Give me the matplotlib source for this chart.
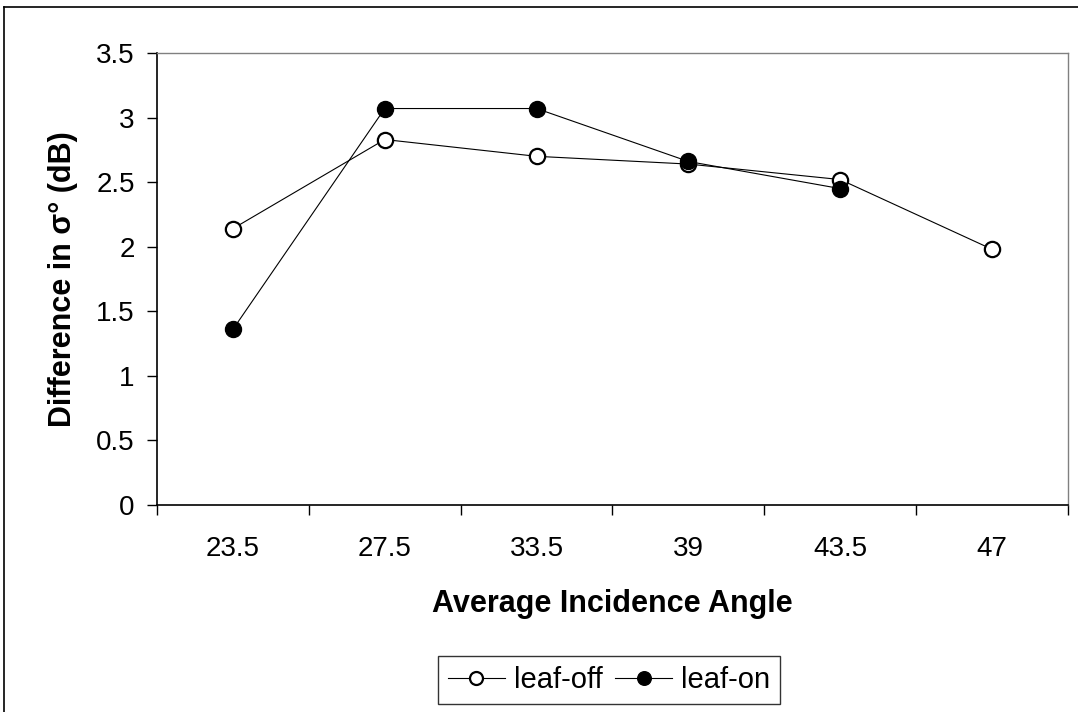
import matplotlib.pyplot as plt
from matplotlib.lines import Line2D

plt.rcParams['font.family'] = ['Liberation Sans', 'DejaVu Sans']

angles = ['23.5', '27.5', '33.5', '39', '43.5', '47']
leaf_off = [2.14, 2.83, 2.70, 2.64, 2.52, 1.98]
leaf_on = [1.36, 3.07, 3.07, 2.66, 2.45]

fig = plt.figure(figsize=(10.78, 7.12), dpi=100)
ax = fig.add_axes([157 / 1078, 1 - 505 / 712, 911 / 1078, 452 / 712])

x = list(range(len(angles)))
ax.plot(x, leaf_off, color='black', lw=0.8, marker='o', markersize=11,
        markerfacecolor='white', markeredgecolor='black', markeredgewidth=1.6,
        label='leaf-off')
ax.plot(x[:len(leaf_on)], leaf_on, color='black', lw=0.8, marker='o', markersize=11.5,
        markerfacecolor='black', markeredgecolor='black', label='leaf-on')

ax.set_xlim(-0.5, len(angles) - 0.5)
ax.set_ylim(0, 3.5)
ax.set_yticks([0, 0.5, 1, 1.5, 2, 2.5, 3, 3.5])
ax.set_yticklabels(['0', '0.5', '1', '1.5', '2', '2.5', '3', '3.5'])
ax.set_xticks([i - 0.5 for i in range(len(angles) + 1)])
ax.set_xticklabels([])
ax.set_xticks(x, minor=True)
ax.set_xticklabels(angles, minor=True)
ax.tick_params(axis='x', which='major', direction='out', length=7, width=1)
ax.tick_params(axis='x', which='minor', length=0, pad=22, labelsize=20)
ax.tick_params(axis='y', direction='out', length=7, width=1, labelsize=20, pad=9)

for s in ['left', 'bottom']:
    ax.spines[s].set_color('black')
    ax.spines[s].set_linewidth(1.2)
for s in ['top', 'right']:
    ax.spines[s].set_color('#808080')
    ax.spines[s].set_linewidth(1.0)

ax.set_xlabel('Average Incidence Angle', fontsize=22, fontweight='bold', labelpad=20)
ax.set_ylabel('Difference in σ° (dB)', fontsize=22, fontweight='bold', labelpad=13)

leg = fig.legend(loc='center', bbox_to_anchor=(609 / 1078, 1 - 680 / 712), ncol=2,
                 fontsize=21, frameon=True, fancybox=False, edgecolor='black',
                 handlelength=1.95, handletextpad=0.3, columnspacing=0.45,
                 borderpad=0.35, borderaxespad=0, markerscale=0.85)
leg.get_frame().set_linewidth(1.0)

fig.add_artist(Line2D([4 / 1078, 4 / 1078], [0, 1 - 7 / 712], color='black', lw=1.2,
                      transform=fig.transFigure))
fig.add_artist(Line2D([4 / 1078, 1], [1 - 7 / 712, 1 - 7 / 712], color='black', lw=1.2,
                      transform=fig.transFigure))

fig.savefig('out.png', dpi=100)
